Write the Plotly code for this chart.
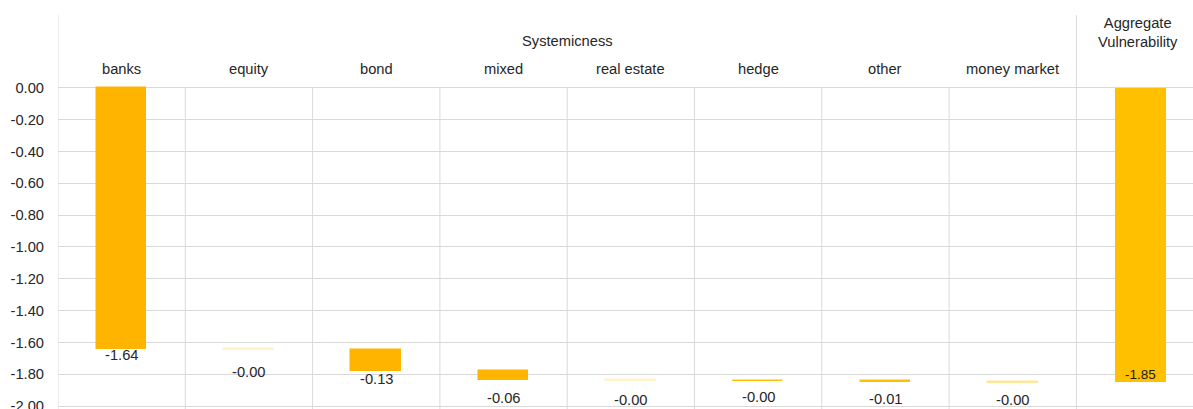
import plotly.graph_objects as go
import numpy as np

# ---- data ----
categories = ["banks", "equity", "bond", "mixed", "real estate", "hedge", "other", "money market"]
contributions = [-1.642, -0.003, -0.134, -0.058, -0.002, -0.003, -0.007, -0.004]
total_label = "Aggregate<br>Vulnerability"
total_value = -1.85
group_title = "Systemicness"
y_ticks = [0.0, -0.2, -0.4, -0.6, -0.8, -1.0, -1.2, -1.4, -1.6, -1.8, -2.0]

# ---- styles ----
bar_colors = ["#FFB400", "#FFF2CC", "#FFB400", "#FFB400", "#FFF2CC", "#FFC000", "#FFC000", "#FFE699"]
total_color = "#FFC000"
label_shift = [-6, -22, -8.5, -18, -19, -16, -17, -17]   # pixel offsets of value labels
total_label_shift = 8
grid_color = "#D9D9D9"
text_color = "#262626"
font_family = "Liberation Sans, Arial, sans-serif"
fs = 14.7

n = len(categories)
ends = np.cumsum(contributions)
bases = np.concatenate([[0.0], ends[:-1]])

fig = go.Figure()
fig.add_trace(go.Bar(
    x=list(range(n)), y=contributions, base=bases,
    marker=dict(color=bar_colors, line=dict(color=bar_colors, width=1.5)),
    width=0.39, showlegend=False, hoverinfo="skip",
))
fig.add_trace(go.Bar(
    x=[n], y=[total_value], base=[0],
    marker=dict(color=total_color, line=dict(color=total_color, width=0)),
    width=0.4, showlegend=False, hoverinfo="skip",
))

y_bottom = -2.018
y_top = 0.457

annotations = []
for i, (c, v, e) in enumerate(zip(categories, contributions, ends)):
    annotations.append(dict(x=i, y=e, text=f"{v:.2f}", showarrow=False, yanchor="middle",
                            yshift=label_shift[i], font=dict(size=fs, color=text_color, family=font_family)))
    annotations.append(dict(x=i, y=0, text=c, showarrow=False, yanchor="middle", yshift=18.7,
                            font=dict(size=fs, color=text_color, family=font_family)))
annotations.append(dict(x=n, y=total_value, text=f"{total_value:.2f}", showarrow=False, yanchor="middle",
                        yshift=total_label_shift, font=dict(size=13.5, color="#1a1a1a", family=font_family)))
annotations.append(dict(x=(n - 1) / 2, y=0, text=group_title, showarrow=False, yanchor="middle", yshift=46.7,
                        font=dict(size=fs, color=text_color, family=font_family)))
annotations.append(dict(x=n - 0.02, y=0, text=total_label, showarrow=False, yanchor="middle", yshift=55,
                        font=dict(size=fs, color=text_color, family=font_family)))

shapes = []
# left border and group separator (full height)
for xv in [-0.5, n - 0.5]:
    shapes.append(dict(type="line", xref="x", yref="paper", x0=xv, x1=xv, y0=0, y1=1,
                       line=dict(color=grid_color, width=1), layer="below"))
# category separators from 0 downward
for k in range(n - 1):
    xv = k + 0.5
    shapes.append(dict(type="line", xref="x", yref="y", x0=xv, x1=xv, y0=y_bottom, y1=0,
                       line=dict(color=grid_color, width=1), layer="below"))

fig.update_layout(
    width=1193, height=409,
    margin=dict(l=58, r=0, t=15, b=0, autoexpand=False),
    paper_bgcolor="white", plot_bgcolor="white",
    bargap=0,
    annotations=annotations, shapes=shapes,
    font=dict(family=font_family, size=fs, color=text_color),
    xaxis=dict(range=[-0.5, -0.5 + (1193 - 58) / 127.3], showticklabels=False, showgrid=False,
               zeroline=False, showline=False, ticks="", automargin=False),
    yaxis=dict(range=[y_bottom, y_top], tickvals=y_ticks,
               ticktext=[("0.00" if abs(v) < 1e-9 else f"{v:.2f}") for v in y_ticks],
               showgrid=True, gridcolor=grid_color, gridwidth=1, zeroline=False, showline=False,
               ticks="", ticklabelstandoff=13, ticklabeloverflow="allow", automargin=False,
               tickfont=dict(size=fs, color=text_color, family=font_family)),
)

fig.write_html("out.html")
